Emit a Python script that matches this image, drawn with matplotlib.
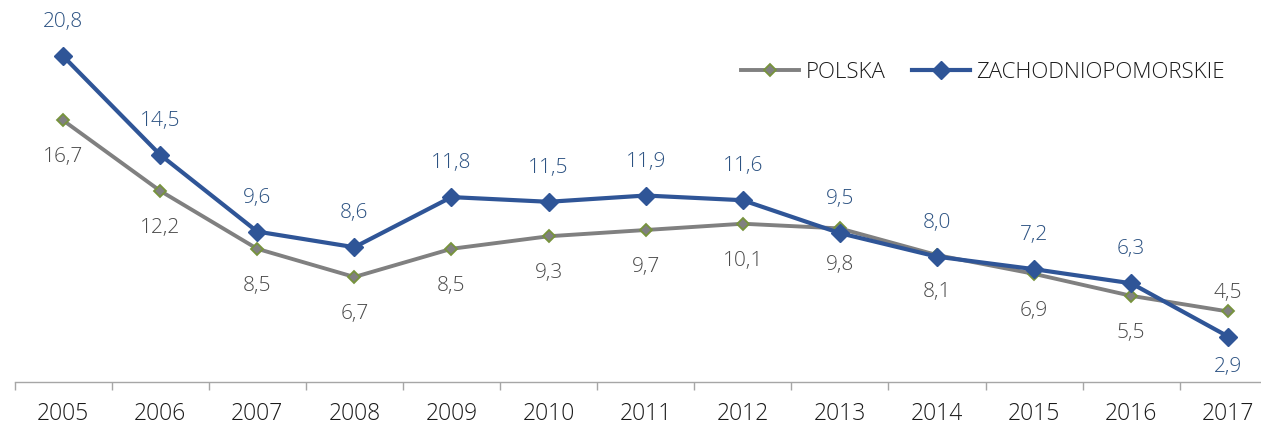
import matplotlib.pyplot as plt

years = ["2005", "2006", "2007", "2008", "2009", "2010", "2011",
         "2012", "2013", "2014", "2015", "2016", "2017"]
polska = [16.7, 12.2, 8.5, 6.7, 8.5, 9.3, 9.7, 10.1, 9.8, 8.1, 6.9, 5.5, 4.5]
zachodnio = [20.8, 14.5, 9.6, 8.6, 11.8, 11.5, 11.9, 11.6, 9.5, 8.0, 7.2, 6.3, 2.9]

# label offsets in pixels (positive = above)
pol_off = [-36] * 12 + [19]
zach_off = [35] * 12 + [-29]

plt.rcParams['font.family'] = ['Open Sans', 'DejaVu Sans']
plt.rcParams['font.weight'] = 'light'

fig = plt.figure(figsize=(12.61, 4.27), dpi=100)
W, H = 1261, 427
x0 = 14.5
step = 97.1
ax = fig.add_axes([x0 / W, (H - 383) / H, 13 * step / W, 383 / H])

x = list(range(len(years)))
ax.plot(x, polska, color="#808080", lw=2.8, marker="D", ms=6.2,
        mfc="#808080", mec="#77933C", mew=1.3, label="POLSKA", zorder=3)
ax.plot(x, zachodnio, color="#2F5597", lw=3.0, marker="D", ms=9.5,
        mfc="#2F5597", mec="#2F5597", label="ZACHODNIOPOMORSKIE", zorder=4)

for i in x:
    ax.annotate(f"{polska[i]:.1f}".replace(".", ","), (i, polska[i]),
                xytext=(0, pol_off[i] * 0.72), textcoords="offset points",
                ha="center", va="center", fontsize=15, color="#4A4A4A")
    ax.annotate(f"{zachodnio[i]:.1f}".replace(".", ","), (i, zachodnio[i]),
                xytext=(0, zach_off[i] * 0.72), textcoords="offset points",
                ha="center", va="center", fontsize=15, color="#2C5282")

ax.set_xlim(-0.5, 12.5)
ax.set_ylim(0, 383 / 15.67)
ax.set_xticks(x)
ax.set_xticklabels(years, fontsize=16.5, color="#1A1A1A")
ax.set_xticks([i - 0.5 for i in range(14)], minor=True)
ax.tick_params(axis="x", which="major", length=0, pad=14)
ax.tick_params(axis="x", which="minor", length=6, width=1, color="#A6A6A6")
ax.set_yticks([])
for s in ["top", "right", "left"]:
    ax.spines[s].set_visible(False)
ax.spines["bottom"].set_color("#A6A6A6")
ax.spines["bottom"].set_linewidth(1)

fig.legend(loc="center", bbox_to_anchor=(983 / W, 1 - 73 / H), ncol=2,
           frameon=False, fontsize=16, handlelength=2.6, columnspacing=1.2,
           handletextpad=0.3, labelcolor="#1A1A1A")

fig.savefig("out.png", dpi=100)
